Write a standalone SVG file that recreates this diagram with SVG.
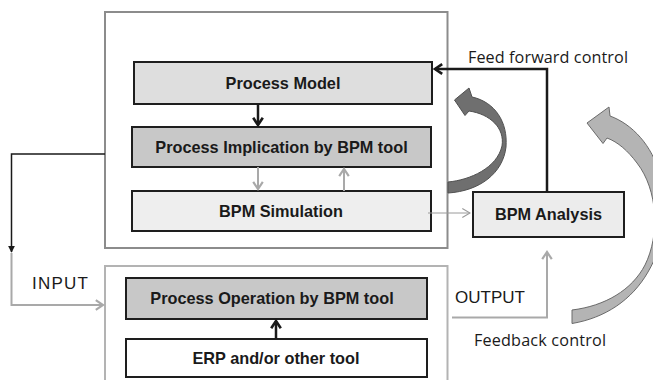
<svg xmlns="http://www.w3.org/2000/svg" width="653" height="380" viewBox="0 0 653 380">
  <style>
    .frame { fill: #ffffff; stroke-width: 2; }
    .box { stroke: #1e1e1e; stroke-width: 2; }
    .lbl { font-family: "Liberation Sans", Arial, sans-serif; font-weight: bold; font-size: 16.3px; fill: #1a1a1a; text-anchor: middle; }
    .note { font-family: "Open Sans", "Liberation Sans", sans-serif; font-size: 16.2px; fill: #1a1a1a; }
    .io { font-family: "Liberation Sans", Arial, sans-serif; font-size: 17px; fill: #1a1a1a; }
    .dark { fill: none; stroke: #1a1a1a; stroke-width: 2.5; }
    .grey { fill: none; stroke: #a9a9a9; stroke-width: 2; }
    .thin { fill: none; stroke: #9a9a9a; stroke-width: 1; }
  </style>
  <defs>
    <marker id="chevDark" viewBox="0 0 10 10" refX="8" refY="5" markerWidth="12" markerHeight="12" markerUnits="userSpaceOnUse" orient="auto">
      <path d="M2,1 L8,5 L2,9" fill="none" stroke="#1a1a1a" stroke-width="2.2"/>
    </marker>
    <marker id="chevGrey" viewBox="0 0 10 10" refX="8" refY="5" markerWidth="12" markerHeight="12" markerUnits="userSpaceOnUse" orient="auto">
      <path d="M2,1 L8,5 L2,9" fill="none" stroke="#a9a9a9" stroke-width="1.8"/>
    </marker>
    <marker id="chevThin" viewBox="0 0 10 10" refX="9" refY="5" markerWidth="11" markerHeight="11" markerUnits="userSpaceOnUse" orient="auto">
      <path d="M2,1 L9,5 L2,9" fill="none" stroke="#9a9a9a" stroke-width="1"/>
    </marker>
    <marker id="triDark" viewBox="0 0 10 10" refX="9" refY="5" markerWidth="7" markerHeight="7" markerUnits="userSpaceOnUse" orient="auto">
      <path d="M0,0 L10,5 L0,10 Z" fill="#1a1a1a"/>
    </marker>
  </defs>

  <!-- containers -->
  <g id="modelling-frame">
    <rect class="frame" x="105" y="12" width="342.5" height="236" stroke="#8c8c8c"/>
  </g>
  <g id="execution-frame">
    <rect class="frame" x="105" y="266" width="342.5" height="130" stroke="#b3b3b3"/>
  </g>

  <!-- loop arrows -->
  <g id="simulation-loop">
    <path d="M448,182 C470,180 497,168 502,146 C505,128 490,114 469,111 L465,115.5 L454.5,100 L469,88 L472,97 C495,102 508,122 506,147 C503,173 480,191 448,193 Z" fill="#6f6f6f" stroke="#505050" stroke-width="1"/>
  </g>
  <g id="feedback-loop">
    <path d="M572,310 C605,306 632,290 645,265 C660,235 658,190 637,163 C628,151 618,142 607,138 L603,143.5 L587,123 L609,107 L610,116 C632,124 652,145 660,175 C668,210 664,245 648,272 C632,300 605,318 572,323.5 Z" fill="#b4b4b4" stroke="#6a6a6a" stroke-width="1"/>
  </g>

  <!-- process nodes -->
  <g id="process-model">
    <rect class="box" x="134" y="62" width="298" height="42" fill="#dedede"/>
    <text class="lbl" x="283" y="89">Process Model</text>
  </g>
  <g id="process-implication">
    <rect class="box" x="132" y="127" width="299" height="40" fill="#c8c8c8"/>
    <text class="lbl" x="281.5" y="152.5">Process Implication by BPM tool</text>
  </g>
  <g id="bpm-simulation">
    <rect class="box" x="132" y="191" width="299" height="40" fill="#eeeeee"/>
    <text class="lbl" x="281" y="216.5">BPM Simulation</text>
  </g>
  <g id="bpm-analysis">
    <rect class="box" x="473" y="192" width="151" height="45" fill="#ececec"/>
    <text class="lbl" x="548.5" y="220">BPM Analysis</text>
  </g>
  <g id="process-operation">
    <rect class="box" x="126" y="278" width="301" height="41" fill="#c8c8c8"/>
    <text class="lbl" x="272" y="304">Process Operation by BPM tool</text>
  </g>
  <g id="erp-tool">
    <rect class="box" x="126" y="339" width="301" height="38" fill="#ffffff"/>
    <text class="lbl" x="276" y="363.5">ERP and/or other tool</text>
  </g>

  <!-- connectors -->
  <g id="connectors">
    <path class="dark" d="M258,104 V125" marker-end="url(#chevDark)" stroke-width="3"/>
    <path class="grey" d="M258,167 V189" marker-end="url(#chevGrey)"/>
    <path class="grey" d="M344,191 V169" marker-end="url(#chevGrey)"/>
    <path class="dark" d="M276,339 V321" marker-end="url(#chevDark)" stroke-width="3"/>
    <path class="thin" d="M428,213 H470" marker-end="url(#chevThin)"/>
    <path class="dark" d="M547,192 V69 H435" marker-end="url(#chevDark)"/>
    <path class="grey" d="M452,317.5 H547 V252" marker-end="url(#chevGrey)"/>
    <path fill="none" stroke="#1a1a1a" stroke-width="1.5" d="M105,154 H11.5 V252" marker-end="url(#triDark)"/>
    <path class="grey" d="M11.5,253 V305 H103" marker-end="url(#chevGrey)"/>
  </g>

  <!-- annotations -->
  <g id="labels">
    <text class="note" x="468" y="63" textLength="160">Feed forward control</text>
    <text class="note" x="474" y="346" textLength="132">Feedback control</text>
    <text class="io" x="32" y="289" textLength="56">INPUT</text>
    <text class="io" x="455" y="303">OUTPUT</text>
  </g>
</svg>
